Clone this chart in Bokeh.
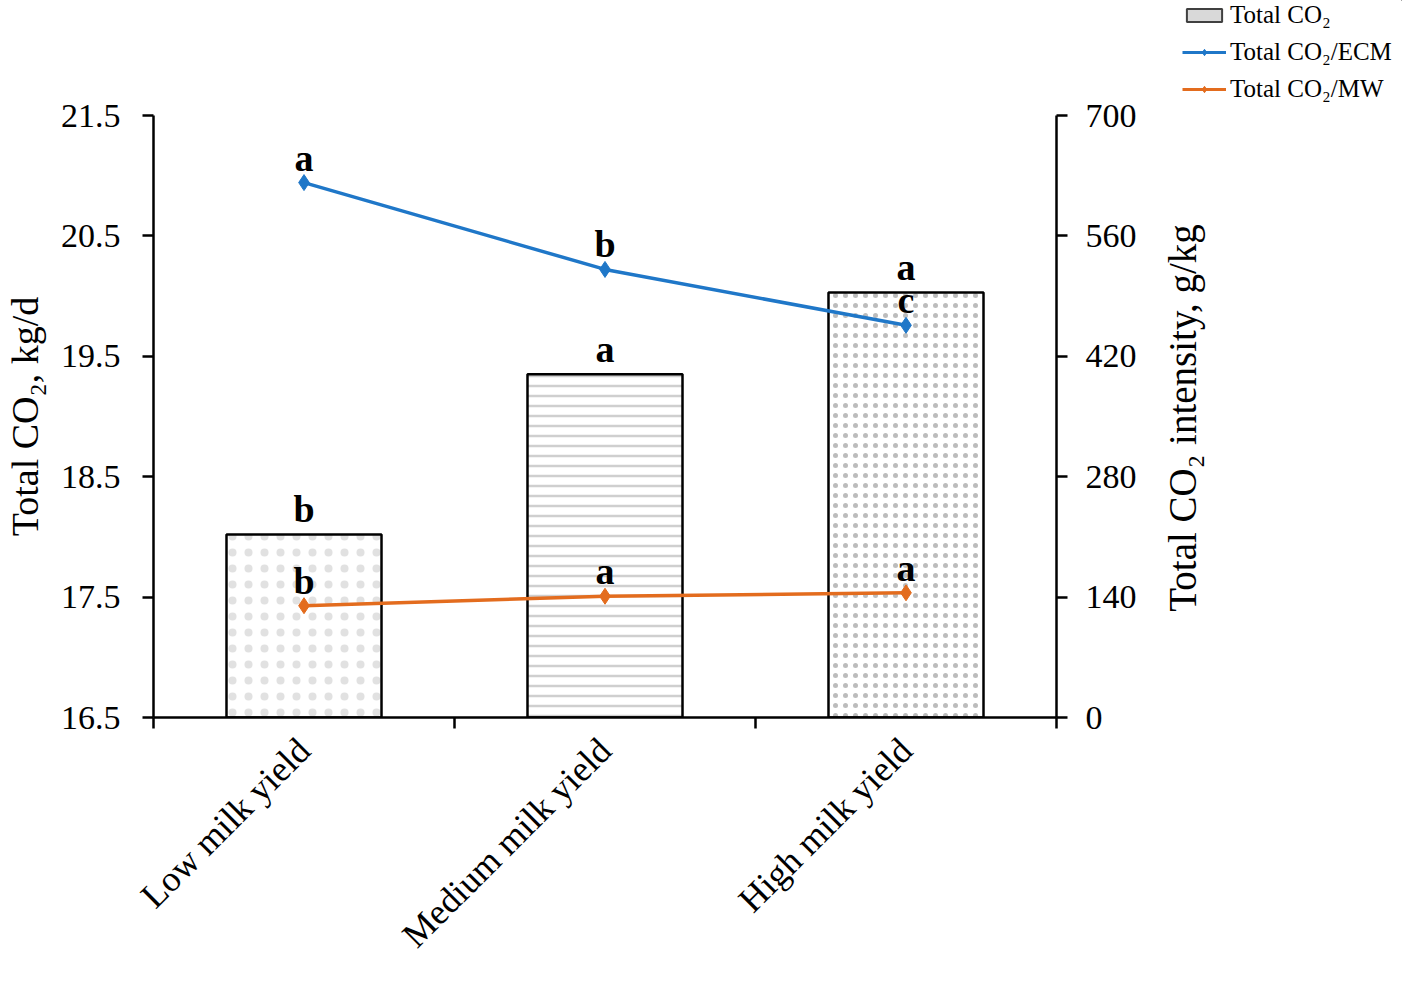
import math
from bokeh.plotting import figure
from bokeh.layouts import column, row
from bokeh.models import (ColumnDataSource, Range1d, LinearAxis, FixedTicker,
                          Legend, LegendItem, Title, Spacer)
from bokeh.core.properties import value
from bokeh.embed import file_html
from bokeh.resources import INLINE

categories = ["Low milk yield", "Medium milk yield", "High milk yield"]
total_co2 = [18.02, 19.35, 20.03]
co2_ecm = [622, 521, 456]
co2_mw = [130, 141, 145]
letters_bar = ["b", "a", "a"]
letters_ecm = ["a", "b", "c"]
letters_mw = ["b", "a", "a"]
left_ticks = [16.5, 17.5, 18.5, 19.5, 20.5, 21.5]
right_ticks = [0, 140, 280, 420, 560, 700]
legend_labels = ["Total CO₂", "Total CO₂/ECM", "Total CO₂/MW"]
left_title = "Total CO₂, kg/d"
right_title = "Total CO₂ intensity, g/kg"

FONT = "Liberation Serif"
BLUE = "#1F77C8"
ORANGE = "#E36C1E"
xpos = [i + 0.5 for i in range(len(categories))]
bounds = list(range(len(categories) + 1))

W, H = 1402, 972
MW_ = 1158               # main figure width (up to right tick labels)
SW = W - MW_             # side column width
LEG_H = 108
LEG_X = 1182
FL, FT, FW, FH = 152, 115, 904, 605

p = figure(width=MW_, height=H, output_backend="svg", toolbar_location=None,
           x_range=Range1d(0, len(categories)), y_range=Range1d(16.5, 21.5),
           min_border_left=FL, min_border_right=MW_ - FL - FW,
           min_border_top=FT, min_border_bottom=H - FT - FH,
           x_axis_location=None, y_axis_location=None)
p.extra_y_ranges = {"right": Range1d(0, 700)}
p.grid.visible = False
p.outline_line_color = None
p.background_fill_color = "white"

bar_src = ColumnDataSource(dict(x=xpos, y=total_co2, t=letters_bar))
ecm_src = ColumnDataSource(dict(x=xpos, y=co2_ecm, t=letters_ecm))
mw_src = ColumnDataSource(dict(x=xpos, y=co2_mw, t=letters_mw))

hatches = [("dot", 16, "#b5b5b5", 0.5, 0.4),
           ("horizontal_line", 10, "#cfcfcf", 2.5, 1.0),
           ("dot", 10, "#bcbcbc", 2.0, 1.0)]
for i in range(len(categories)):
    src = ColumnDataSource(dict(x=[xpos[i]], top=[total_co2[i]]))
    hp, hs, hc, hw, ha = hatches[i]
    p.vbar(x="x", top="top", bottom=16.5, width=0.515, source=src,
           fill_color="white", line_color="black", line_width=2.5,
           hatch_pattern=hp, hatch_scale=hs, hatch_color=hc, hatch_weight=hw,
           hatch_alpha=ha)

p.line("x", "y", source=ecm_src, y_range_name="right", line_color=BLUE, line_width=3.5)
p.scatter("x", "y", source=ecm_src, y_range_name="right", marker="diamond",
          size=16, fill_color=BLUE, line_color=BLUE)
p.line("x", "y", source=mw_src, y_range_name="right", line_color=ORANGE, line_width=3.5)
p.scatter("x", "y", source=mw_src, y_range_name="right", marker="diamond",
          size=16, fill_color=ORANGE, line_color=ORANGE)

txt = dict(text="t", text_font=value(FONT), text_font_style="bold",
           text_font_size="38px", text_align="center", text_baseline="bottom",
           text_color="black", y_offset=-4)
p.text("x", "y", source=bar_src, **txt)
p.text("x", "y", source=ecm_src, y_range_name="right", **txt)
p.text("x", "y", source=mw_src, y_range_name="right", **txt)

def style_axis(ax):
    ax.axis_line_width = 2.5
    ax.axis_line_color = "black"
    ax.major_tick_line_width = 2.5
    ax.major_tick_in = 0
    ax.major_tick_out = 11
    ax.minor_tick_line_color = None
    ax.major_label_text_font = FONT
    ax.major_label_text_font_size = "34px"
    ax.major_label_text_color = "black"
    ax.axis_label_text_font = FONT
    ax.axis_label_text_font_size = "38px"
    ax.axis_label_text_font_style = "normal"
    ax.axis_label_text_color = "black"

ly = LinearAxis(ticker=FixedTicker(ticks=left_ticks), axis_label=left_title)
style_axis(ly)
ly.major_label_standoff = 22
ly.axis_label_standoff = 12
p.add_layout(ly, "left")

ry = LinearAxis(y_range_name="right", ticker=FixedTicker(ticks=right_ticks))
style_axis(ry)
ry.major_label_standoff = 18
p.add_layout(ry, "right")

bx = LinearAxis(ticker=FixedTicker(ticks=xpos, minor_ticks=bounds))
style_axis(bx)
bx.major_tick_line_color = None
bx.minor_tick_line_color = "black"
bx.minor_tick_line_width = 2.5
bx.minor_tick_in = 0
bx.minor_tick_out = 11
bx.major_label_overrides = {xp: c for xp, c in zip(xpos, categories)}
bx.major_label_orientation = math.pi / 4
bx.major_label_text_font_size = "36px"
bx.major_label_standoff = 16
p.add_layout(bx, "below")

# legend figure (top of side column); data lies outside its ranges
LW = W - LEG_X
lf = figure(width=LW, height=LEG_H, output_backend="svg", toolbar_location=None,
            x_range=Range1d(-10, -9), y_range=Range1d(-10, -9), min_border=0,
            x_axis_location=None, y_axis_location=None)
lf.grid.visible = False
lf.outline_line_color = None
d_bar = lf.vbar(x="x", top="y", bottom=16.5, width=0.5, source=bar_src,
                fill_color="#d9d9d9", line_color="#404040", line_width=2)
d_l1 = lf.line("x", "y", source=ecm_src, line_color=BLUE, line_width=3)
d_s1 = lf.scatter("x", "y", source=ecm_src, marker="diamond", size=11,
                  fill_color=BLUE, line_color=BLUE)
d_l2 = lf.line("x", "y", source=mw_src, line_color=ORANGE, line_width=3)
d_s2 = lf.scatter("x", "y", source=mw_src, marker="diamond", size=11,
                  fill_color=ORANGE, line_color=ORANGE)
legend = Legend(items=[
    LegendItem(label=legend_labels[0], renderers=[d_bar]),
    LegendItem(label=legend_labels[1], renderers=[d_l1, d_s1]),
    LegendItem(label=legend_labels[2], renderers=[d_l2, d_s2]),
], location="top_left", orientation="vertical",
    border_line_color=None, background_fill_alpha=0,
    label_text_font=FONT, label_text_font_size="25px", label_text_color="black",
    glyph_width=44, glyph_height=16, label_height=30, spacing=7,
    padding=0, margin=0, label_standoff=4)
lf.add_layout(legend, "center")

# right axis title figure (below legend in side column)
LH = H - LEG_H
tf = figure(width=SW, height=LH, output_backend="svg", toolbar_location=None,
            x_range=Range1d(0, 1), y_range=Range1d(0, 1),
            min_border_left=0, min_border_right=0,
            min_border_top=FT - LEG_H, min_border_bottom=LH - (FT - LEG_H) - FH,
            x_axis_location=None, y_axis_location=None)
tf.grid.visible = False
tf.outline_line_color = None
tf.add_layout(Title(text=right_title, align="center", text_font=FONT,
                    text_font_size="39px", text_font_style="normal",
                    text_color="black", standoff=0, offset=0), "left")

layout = row(p, column(row(Spacer(width=LEG_X - MW_, height=LEG_H), lf), tf))
open("out.html", "w").write(file_html(layout, INLINE))
